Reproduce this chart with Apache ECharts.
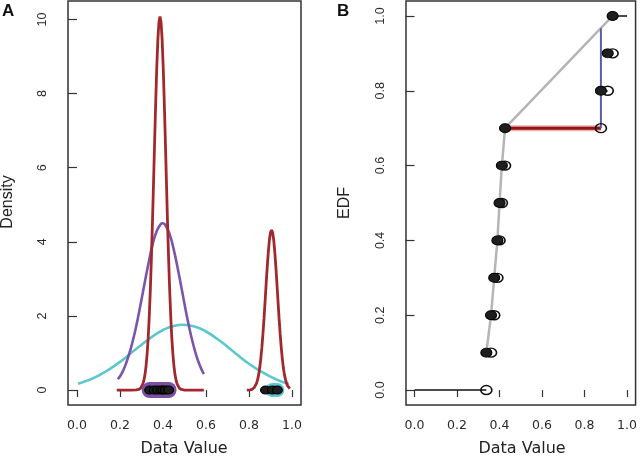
<!DOCTYPE html>
<html>
<head>
<meta charset="utf-8">
<script src="https://cdn.jsdelivr.net/npm/echarts@6/dist/echarts.min.js"></script>
<style>
html,body{margin:0;padding:0;background:#fff;}
#chart{width:640px;height:456px;}
</style>
</head>
<body>
<div id="chart"></div>
<script>
// ---- data ----
const dataValues = [0.338, 0.360, 0.375, 0.390, 0.400, 0.411, 0.426, 0.877, 0.909, 0.932];
const xTicks = [0, 0.2, 0.4, 0.6, 0.8, 1.0];
const densityTicks = [0, 2, 4, 6, 8, 10];
const edfTicks = [0, 0.2, 0.4, 0.6, 0.8, 1.0];

const redPeakLow = [[0.185,0],[0.25,0],[0.276,0.004],[0.286,0.015],[0.296,0.05],[0.306,0.16],[0.311,0.26],[0.316,0.41],[0.321,0.64],[0.326,0.97],[0.331,1.40],[0.336,1.98],[0.341,2.70],[0.346,3.56],[0.351,4.54],[0.356,5.61],[0.361,6.71],[0.366,7.76],[0.371,8.71],[0.376,9.45],[0.381,9.92],[0.386,10.08],[0.391,9.92],[0.396,9.45],[0.401,8.71],[0.406,7.76],[0.411,6.71],[0.416,5.61],[0.421,4.54],[0.426,3.56],[0.431,2.70],[0.436,1.98],[0.441,1.40],[0.446,0.97],[0.451,0.64],[0.456,0.41],[0.461,0.26],[0.466,0.16],[0.476,0.05],[0.486,0.015],[0.50,0],[0.59,0]];
const redPeakHigh = [[0.79,0],[0.805,0.006],[0.815,0.02],[0.825,0.07],[0.83,0.11],[0.835,0.18],[0.84,0.28],[0.845,0.41],[0.85,0.60],[0.855,0.85],[0.86,1.15],[0.865,1.52],[0.87,1.94],[0.875,2.40],[0.88,2.88],[0.885,3.33],[0.89,3.73],[0.895,4.05],[0.90,4.25],[0.905,4.32],[0.91,4.25],[0.915,4.05],[0.92,3.73],[0.925,3.33],[0.93,2.88],[0.935,2.40],[0.94,1.94],[0.945,1.52],[0.95,1.15],[0.955,0.85],[0.96,0.60],[0.965,0.41],[0.97,0.28],[0.975,0.18],[0.98,0.11],[0.985,0.07],[0.99,0.04]];
const purpleCurve = [[0.19,0.29],[0.21,0.47],[0.23,0.75],[0.25,1.12],[0.27,1.58],[0.29,2.14],[0.31,2.75],[0.33,3.35],[0.35,3.89],[0.37,4.28],[0.39,4.48],[0.398,4.50],[0.41,4.46],[0.43,4.22],[0.45,3.79],[0.47,3.24],[0.49,2.63],[0.51,2.02],[0.53,1.48],[0.55,1.03],[0.57,0.68],[0.59,0.43]];
const cyanCurve = [[0.005,0.17],[0.05,0.26],[0.10,0.39],[0.15,0.56],[0.20,0.76],[0.25,0.99],[0.30,1.22],[0.35,1.44],[0.40,1.62],[0.45,1.73],[0.494,1.76],[0.55,1.71],[0.60,1.58],[0.65,1.39],[0.70,1.17],[0.75,0.93],[0.80,0.71],[0.85,0.52],[0.90,0.36],[0.95,0.23],[0.985,0.17]];
const purpleRug = [0.338, 0.426];
const cyanRug = [0.909, 0.932];

const edfLevels = [0, 0.1, 0.2, 0.3, 0.4, 0.5, 0.6, 0.7, 0.8, 0.9, 1.0];
const grayLine = [[0.338,0.1],[0.360,0.2],[0.375,0.3],[0.390,0.4],[0.400,0.5],[0.411,0.6],[0.426,0.7],[0.932,1.0]];
const redGap = [[0.426,0.7],[0.877,0.7]];
const blueGap = [[0.877,0.7],[0.877,0.967]];
const edfXEnds = [0, 1.0];

// ---- derived from the arrays ----
const steps = [];
for (let i = 0; i < edfLevels.length; i++) {
  const x0 = i === 0 ? edfXEnds[0] : dataValues[i - 1];
  const x1 = i < dataValues.length ? dataValues[i] : edfXEnds[1];
  steps.push({coords: [[x0, edfLevels[i]], [x1, edfLevels[i]]]});
}
const filledPts = dataValues.map((x, i) => [x, edfLevels[i + 1]]);
const openPts = dataValues.map((x, i) => [x, edfLevels[i]]);
const rugDots = dataValues.map(x => [x, 0]);

const FONT = 'Liberation Sans, Arial, sans-serif';
const AX = '#333';

function xAxisDef(idx, min, max) {
  return {
    type: 'value', gridIndex: idx, min: min, max: max, offset: 2,
    axisLine: {show: false},
    splitLine: {show: false},
    axisTick: {show: true, length: 7, lineStyle: {color: AX, width: 1.2}, customValues: xTicks},
    axisLabel: {show: true, customValues: xTicks, margin: 12, color: '#2a2a2a', fontFamily: 'DejaVu Sans', fontSize: 12.5,
      formatter: v => v.toFixed(1)}
  };
}
function yAxisDef(idx, min, max, ticks, fmt) {
  return {
    type: 'value', gridIndex: idx, min: min, max: max,
    axisLine: {show: false},
    splitLine: {show: false},
    axisTick: {show: true, length: 9, lineStyle: {color: AX, width: 1.2}, customValues: ticks},
    axisLabel: {show: true, customValues: ticks, rotate: 90, margin: 19, color: '#2a2a2a', fontFamily: FONT, fontSize: 12.5,
      formatter: fmt}
  };
}

const option = {
  animation: false,
  backgroundColor: '#fff',
  grid: [
    {left: 68, top: 1, width: 233, height: 404, show: true, borderColor: AX, borderWidth: 1.5, backgroundColor: 'transparent'},
    {left: 406, top: 1, width: 232, height: 404, show: true, borderColor: AX, borderWidth: 1.5, backgroundColor: 'transparent'}
  ],
  xAxis: [xAxisDef(0, -0.042, 1.042), xAxisDef(1, -0.04, 1.04)],
  yAxis: [
    yAxisDef(0, -0.404, 10.5, densityTicks, v => String(Math.round(v))),
    yAxisDef(1, -0.04, 1.04, edfTicks, v => v.toFixed(1))
  ],
  series: [
    // Panel A
    {type: 'line', xAxisIndex: 0, yAxisIndex: 0, data: cyanCurve, smooth: true, showSymbol: false,
      lineStyle: {color: '#5bc7cf', width: 2.6}, z: 2},
    {type: 'line', xAxisIndex: 0, yAxisIndex: 0, data: purpleCurve, smooth: true, showSymbol: false,
      lineStyle: {color: '#7d55a8', width: 2.6}, z: 3},
    {type: 'line', xAxisIndex: 0, yAxisIndex: 0, data: redPeakLow, showSymbol: false,
      lineStyle: {color: '#a3282d', width: 2.8}, z: 4},
    {type: 'line', xAxisIndex: 0, yAxisIndex: 0, data: redPeakHigh, showSymbol: false,
      lineStyle: {color: '#a3282d', width: 2.8}, z: 4},
    {type: 'line', xAxisIndex: 0, yAxisIndex: 0, data: purpleRug.map(x => [x, 0]), showSymbol: false,
      lineStyle: {color: '#7b4fa3', width: 16, cap: 'round'}, z: 5},
    {type: 'line', xAxisIndex: 0, yAxisIndex: 0, data: cyanRug.map(x => [x, 0]), showSymbol: false,
      lineStyle: {color: '#5bc7cf', width: 14, cap: 'round'}, z: 5},
    {type: 'scatter', xAxisIndex: 0, yAxisIndex: 0, data: rugDots, symbol: 'circle', symbolSize: [10, 8],
      itemStyle: {color: '#1e1e1e', borderColor: '#000', borderWidth: 1, opacity: 1}, z: 6},
    // Panel B
    {type: 'line', xAxisIndex: 1, yAxisIndex: 1, data: grayLine, showSymbol: false,
      lineStyle: {color: '#b5b5b5', width: 2.5}, z: 2},
    {type: 'lines', coordinateSystem: 'cartesian2d', xAxisIndex: 1, yAxisIndex: 1, data: steps,
      lineStyle: {color: '#111', width: 1.5, opacity: 1}, z: 3},
    {type: 'line', xAxisIndex: 1, yAxisIndex: 1, data: redGap, showSymbol: false,
      lineStyle: {color: 'rgba(225,110,110,0.55)', width: 6}, z: 4},
    {type: 'line', xAxisIndex: 1, yAxisIndex: 1, data: redGap, showSymbol: false,
      lineStyle: {color: '#8e1414', width: 3}, z: 4},
    {type: 'line', xAxisIndex: 1, yAxisIndex: 1, data: blueGap, showSymbol: false,
      lineStyle: {color: '#5d5aa8', width: 2}, z: 4},
    {type: 'scatter', xAxisIndex: 1, yAxisIndex: 1, data: openPts, symbol: 'circle', symbolSize: [11, 9],
      itemStyle: {color: 'rgba(255,255,255,0)', borderColor: '#111', borderWidth: 1.5, opacity: 1}, z: 5},
    {type: 'scatter', xAxisIndex: 1, yAxisIndex: 1, data: filledPts, symbol: 'circle', symbolSize: [11, 9],
      itemStyle: {color: '#1e1e1e', borderColor: '#000', borderWidth: 1, opacity: 1}, z: 6}
  ],
  graphic: [
    {type: 'text', left: 2, top: 3, style: {text: 'A', font: 'bold 17px ' + FONT, fill: '#111'}},
    {type: 'text', left: 337, top: 3, style: {text: 'B', font: 'bold 17px ' + FONT, fill: '#111'}},
    {type: 'text', x: 8, y: 202, rotation: Math.PI / 2,
      style: {text: 'Density', font: '16px ' + FONT, fill: '#222', align: 'center', verticalAlign: 'middle'}},
    {type: 'text', x: 345, y: 203, rotation: Math.PI / 2,
      style: {text: 'EDF', font: '16px ' + FONT, fill: '#222', align: 'center', verticalAlign: 'middle'}},
    {type: 'text', x: 184, y: 449, style: {text: 'Data Value', font: '16px DejaVu Sans', fill: '#222', align: 'center', verticalAlign: 'middle'}},
    {type: 'text', x: 522, y: 449, style: {text: 'Data Value', font: '16px DejaVu Sans', fill: '#222', align: 'center', verticalAlign: 'middle'}}
  ]
};

const chart = echarts.init(document.getElementById('chart'), null, {renderer: 'canvas'});
chart.setOption(option);
</script>
</body>
</html>
